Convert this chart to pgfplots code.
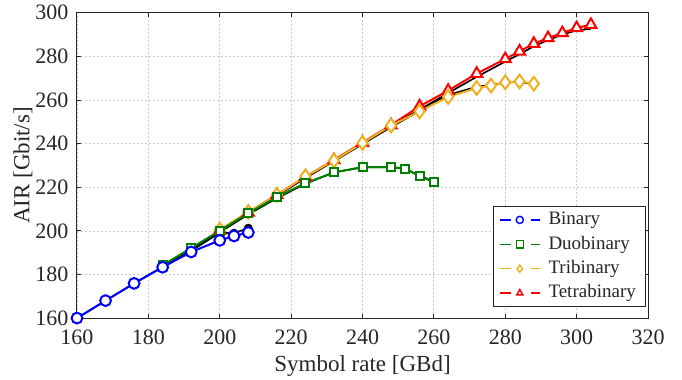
\documentclass[border=0pt]{standalone}
\usepackage{fontspec}
\setmainfont{Liberation Serif}
\usepackage{pgfplots}
\pgfplotsset{compat=1.18}
\definecolor{axgray}{RGB}{38,38,38}
\definecolor{gridgray}{RGB}{205,205,205}
\definecolor{mblue}{RGB}{0,0,255}
\definecolor{mgreen}{RGB}{0,128,0}
\definecolor{morange}{RGB}{237,177,32}
\definecolor{mred}{RGB}{255,0,0}

\pgfplotsset{
  splitlegend/.style={
    legend image code/.code={
      \draw[##1, mark=none, line width=0.7pt] (0pt,0pt) -- (5.5pt,0pt);
      \draw[##1, mark=none, line width=0.7pt] (15.5pt,0pt) -- (20pt,0pt);
      \draw[##1, line width=0.7pt, mark size=1.8pt] plot coordinates {(10pt,0pt)};
    }
  },
  refline/.style={black, line width=0.8pt, no markers, forget plot},
}

\begin{document}
\begin{tikzpicture}
\begin{axis}[
  scale only axis,
  width=285.5pt, height=152.8pt,
  xmin=160, xmax=320, ymin=160, ymax=300,
  xtick={160,180,...,320}, ytick={160,180,...,300},
  tick align=inside, tick pos=both, major tick length=2pt,
  axis line style={axgray, line width=0.5pt},
  every tick/.style={axgray, line width=0.5pt},
  grid=major,
  major grid style={gridgray, dash pattern=on 1pt off 1pt, line width=0.45pt},
  /pgf/number format/assume math mode=true,
  /pgf/number format/1000 sep={},
  ticklabel style={text=axgray, font=\fontsize{11}{13}\selectfont},
  xticklabel style={yshift=-2pt},
  yticklabel style={xshift=-0.8pt},
  xlabel={Symbol rate [GBd]},
  ylabel={AIR [Gbit/s]},
  label style={text=axgray, font=\fontsize{11.5}{13}\selectfont},
  xlabel style={at={(axis description cs:0.5,-0.155)}, anchor=center},
  ylabel style={at={(axis description cs:-0.0946,0.5)}, anchor=center},
  legend style={
    at={(0.997,0.037)}, anchor=south east,
    draw=axgray, line width=0.5pt, fill=white,
    font=\fontsize{9.5}{11}\selectfont, text=axgray,
    inner xsep=3pt, inner ysep=0.6pt,
    nodes={text height=7pt, text depth=2.2pt, inner ysep=1.5pt, inner xsep=2pt},
    /tikz/every odd column/.append style={column sep=2pt},
  },
  legend cell align=left,
  reverse legend,
  splitlegend,
]
\coordinate (sw) at (rel axis cs:0,0);
\coordinate (ne) at (rel axis cs:1,1);

% black reference curves, drawn first
\addplot[refline] coordinates {(200,199.8) (208,208.3) (216,216.3) (224,224.4) (232,232.2) (240,240.2) (248,248.1) (256,255.6) (264,263.2) (272,270.6) (280,277.6) (284,281.0) (288,284.6) (292,287.5) (296,290.0) (300,291.9) (304,292.6)};
\addplot[refline] coordinates {(200,199.9) (208,208.2) (216,216.1) (224,224.3) (232,231.9) (240,239.8) (248,247.6) (256,255.0) (264,262.3) (272,266.1) (276,266.9) (280,268.0) (284,268.3) (288,267.3)};
\addplot[refline] coordinates {(184,184.0) (192,191.6) (200,199.4) (208,207.6) (216,215.0) (224,221.6) (232,226.9) (240,229.1) (248,229.2) (252,228.5) (256,225.4) (260,222.6)};
\addplot[black, line width=0.8pt, mark=*, mark size=2.1pt, mark options={line width=0.2pt}, forget plot] coordinates {(160,160) (168,168) (176,176) (184,183.6) (192,190.9) (200,199.2) (204,199.0) (208,201.3)};

% measured AIR per modulation
\addplot[mred, line width=1pt, mark=triangle*, mark size=3.2pt, mark options={fill=white, solid}]
  coordinates {(200,200.3) (208,208.5) (216,216.6) (224,224.8) (232,232.5) (240,240.5) (248,248.5) (256,257.1) (264,264.3) (272,272.1) (280,278.8) (284,282.3) (288,285.8) (292,288.4) (296,290.7) (300,293.0) (304,294.5)};
\addlegendentry{Tetrabinary}
\addplot[morange, line width=1pt, mark=diamond*, mark size=3.4pt, mark options={fill=white, solid}]
  coordinates {(200,200.6) (208,208.7) (216,216.5) (224,225.0) (232,232.2) (240,240.3) (248,248.3) (256,254.8) (264,261.4) (272,265.5) (276,266.6) (280,268.1) (284,268.5) (288,267.5)};
\addlegendentry{Tribinary}
\addplot[mgreen, line width=1pt, mark=square*, mark size=2pt, mark options={fill=white, solid}]
  coordinates {(184,184.3) (192,192.2) (200,200.1) (208,208.2) (216,215.5) (224,221.9) (232,226.8) (240,229.3) (248,229.3) (252,228.6) (256,225.0) (260,222.5)};
\addlegendentry{Duobinary}
\addplot[mblue, line width=1pt, mark=*, mark size=2.7pt, mark options={fill=white, solid}]
  coordinates {(160,160.1) (168,168.1) (176,176.0) (184,183.4) (192,190.4) (200,195.7) (204,197.7) (208,199.3)};
\addlegendentry{Binary}
\end{axis}
\pgfresetboundingbox
\path[use as bounding box] ([xshift=-38.5pt,yshift=-30.35pt]sw) rectangle ([xshift=17pt,yshift=6.35pt]ne);
\end{tikzpicture}
\end{document}
